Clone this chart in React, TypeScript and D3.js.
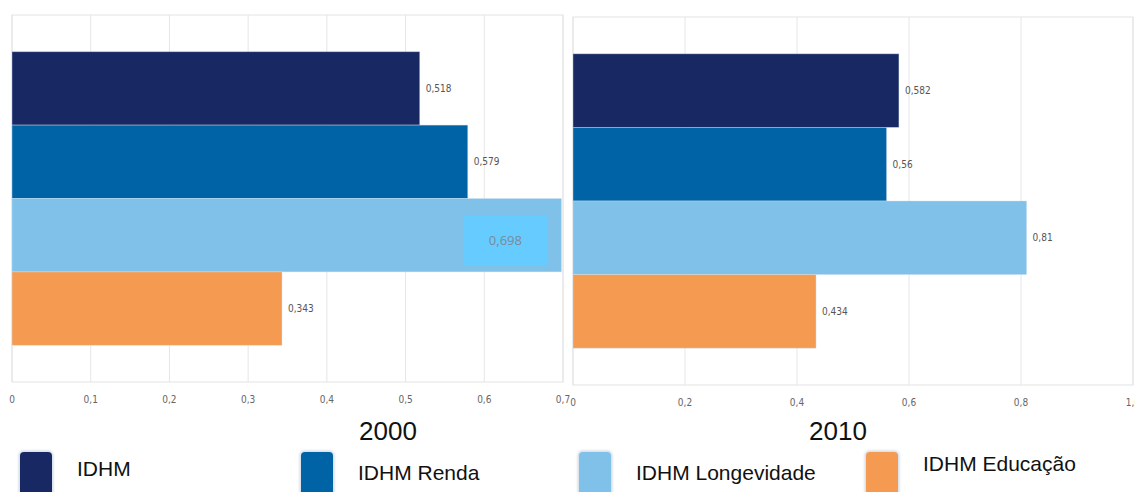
import { useMemo } from 'react';
import { scaleBand, scaleLinear } from 'd3';

const seriesNames = ['IDHM', 'IDHM Renda', 'IDHM Longevidade', 'IDHM Educação'];
const seriesColors = ['#182862', '#0063a6', '#80c1ea', '#f49b51'];
const values2000 = [0.518, 0.579, 0.698, 0.343];
const values2010 = [0.582, 0.56, 0.81, 0.434];
const ticks2000 = [0, 0.1, 0.2, 0.3, 0.4, 0.5, 0.6, 0.7];
const ticks2010 = [0, 0.2, 0.4, 0.6, 0.8, 1.0];
const years = ['2000', '2010'];

const W = 1135;
const H = 492;

const smallFont = '"Liberation Sans Narrow", "DejaVu Sans Condensed", sans-serif';
const bigFont = '"Liberation Sans", Arial, sans-serif';

const fmt = (v: number, digits?: number) =>
  (digits != null ? v.toFixed(digits) : String(v)).replace('.', ',');

interface PanelProps {
  values: number[];
  ticks: number[];
  x0: number;
  x1: number;
  top: number;
  bottom: number;
  tickDigits: number;
  highlight?: number;
}

const Panel = ({ values, ticks, x0, x1, top, bottom, tickDigits, highlight }: PanelProps) => {
  const x = useMemo(
    () => scaleLinear().domain([0, ticks[ticks.length - 1]]).range([x0, x1]),
    [ticks, x0, x1],
  );
  const y = useMemo(
    () => scaleBand<string>().domain(seriesNames).range([top, bottom]).paddingInner(0).paddingOuter(0.5),
    [top, bottom],
  );

  return (
    <g>
      {ticks.map((t) => (
        <line key={t} x1={x(t)} x2={x(t)} y1={top} y2={bottom} stroke="#e6e6e6" strokeWidth={1} />
      ))}
      <rect x={x0} y={top} width={x1 - x0} height={bottom - top} fill="none" stroke="#e3e3e3" />
      {values.map((v, i) => {
        const name = seriesNames[i];
        const by = y(name)!;
        const bh = y.bandwidth();
        return (
          <g key={name}>
            <rect
              x={x(0)}
              y={by}
              width={x(v) - x(0)}
              height={bh}
              fill={seriesColors[i]}
              stroke="#cfe3f3"
              strokeOpacity={0.5}
              strokeWidth={0.8}
            />
            {highlight === i ? (
              <g>
                <rect x={x(v) - 98} y={by + 17} width={84} height={50} fill="#66ccff" />
                <text
                  x={x(v) - 56}
                  y={by + 42}
                  dy="0.35em"
                  textAnchor="middle"
                  fontFamily='"Open Sans", sans-serif'
                  fontSize={13}
                  fill="#7a8a99"
                >
                  {fmt(v)}
                </text>
              </g>
            ) : (
              <text
                x={x(v) + 6}
                y={by + bh / 2}
                dy="0.35em"
                fontFamily={smallFont}
                fontSize={10}
                fill="#555"
              >
                {fmt(v)}
              </text>
            )}
          </g>
        );
      })}
      {ticks.map((t) => (
        <text
          key={'l' + t}
          x={x(t)}
          y={bottom + 17}
          dy="0.35em"
          textAnchor="middle"
          fontFamily={smallFont}
          fontSize={10}
          fill="#666"
        >
          {t === 0 ? '0' : fmt(t, tickDigits)}
        </text>
      ))}
    </g>
  );
};

export default function App() {
  const legendX = [20, 301, 579, 866];
  const legendTextY = [476, 480, 480, 471];
  return (
    <svg width={W} height={H} style={{ position: 'absolute', left: 0, top: 0, background: '#fff' }}>
      <defs>
        <filter id="soft" x="-30%" y="-30%" width="160%" height="160%">
          <feGaussianBlur stdDeviation="0.8" />
        </filter>
      </defs>
      <Panel values={values2000} ticks={ticks2000} x0={12} x1={563} top={15} bottom={382} tickDigits={1} highlight={2} />
      <Panel values={values2010} ticks={ticks2010} x0={573} x1={1133} top={17} bottom={385} tickDigits={1} />
      <text x={388} y={440} textAnchor="middle" fontFamily={bigFont} fontSize={26} fill="#111">
        {years[0]}
      </text>
      <text x={838} y={440} textAnchor="middle" fontFamily={bigFont} fontSize={26} fill="#111">
        {years[1]}
      </text>
      {seriesNames.map((name, i) => (
        <g key={name}>
          <rect
            x={legendX[i] - 1.5}
            y={450.5}
            width={35}
            height={46}
            rx={5}
            fill="#d4dce6"
            filter="url(#soft)"
          />
          <rect x={legendX[i]} y={452} width={32} height={44} rx={4} fill={seriesColors[i]} />
          <text x={legendX[i] + 57} y={legendTextY[i]} fontFamily={bigFont} fontSize={21} fill="#111">
            {name}
          </text>
        </g>
      ))}
    </svg>
  );
}
